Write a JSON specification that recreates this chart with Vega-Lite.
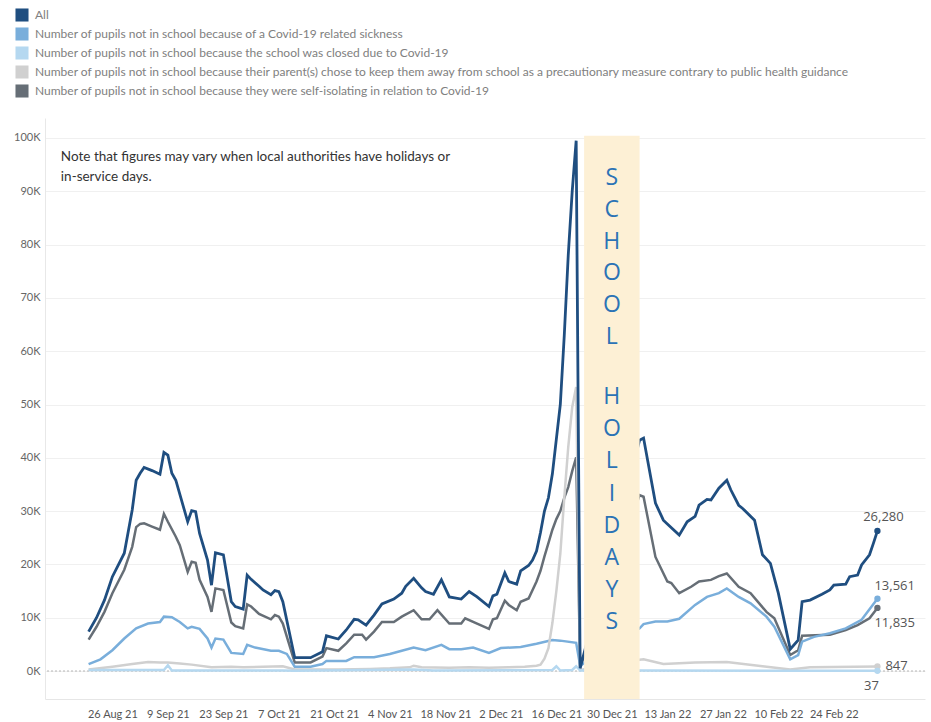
{
  "$schema": "https://vega.github.io/schema/vega-lite/v6.json",
  "width": 880,
  "height": 581,
  "autosize": {"type": "none"},
  "padding": {"left": 45, "top": 118, "right": 6, "bottom": 23},
  "background": "white",
  "config": {"view": {"stroke": null}, "font": "Lato"},
  "datasets": {
    "names": [
      {"k": "A", "name": "All"},
      {"k": "S", "name": "Number of pupils not in school because of a Covid-19 related sickness"},
      {"k": "C", "name": "Number of pupils not in school because the school was closed due to Covid-19"},
      {"k": "P", "name": "Number of pupils not in school because their parent(s) chose to keep them away from school as a precautionary measure contrary to public health guidance"},
      {"k": "I", "name": "Number of pupils not in school because they were self-isolating in relation to Covid-19"}
    ],
    "abs": [
      {"d":"2021-08-20","k":"A","v":7400},{"d":"2021-08-22","k":"A","v":10000},{"d":"2021-08-24","k":"A","v":13300},{"d":"2021-08-26","k":"A","v":17700},{"d":"2021-08-29","k":"A","v":22100},{"d":"2021-08-31","k":"A","v":30200},{"d":"2021-09-01","k":"A","v":35800},{"d":"2021-09-02","k":"A","v":37100},{"d":"2021-09-03","k":"A","v":38200},{"d":"2021-09-05","k":"A","v":37600},{"d":"2021-09-07","k":"A","v":36900},{"d":"2021-09-08","k":"A","v":41000},{"d":"2021-09-09","k":"A","v":40500},{"d":"2021-09-10","k":"A","v":37100},{"d":"2021-09-11","k":"A","v":35800},{"d":"2021-09-14","k":"A","v":28000},{"d":"2021-09-15","k":"A","v":30100},{"d":"2021-09-16","k":"A","v":29900},{"d":"2021-09-17","k":"A","v":25800},{"d":"2021-09-19","k":"A","v":20800},{"d":"2021-09-20","k":"A","v":16100},{"d":"2021-09-21","k":"A","v":22200},{"d":"2021-09-23","k":"A","v":21800},{"d":"2021-09-25","k":"A","v":13000},{"d":"2021-09-26","k":"A","v":12100},{"d":"2021-09-28","k":"A","v":11600},{"d":"2021-09-29","k":"A","v":18000},{"d":"2021-09-30","k":"A","v":17200},{"d":"2021-10-02","k":"A","v":15900},{"d":"2021-10-03","k":"A","v":15200},{"d":"2021-10-05","k":"A","v":14300},{"d":"2021-10-06","k":"A","v":15100},{"d":"2021-10-07","k":"A","v":14900},{"d":"2021-10-08","k":"A","v":13000},{"d":"2021-10-11","k":"A","v":2500},{"d":"2021-10-13","k":"A","v":2500},{"d":"2021-10-15","k":"A","v":2500},{"d":"2021-10-18","k":"A","v":3600},{"d":"2021-10-19","k":"A","v":6600},{"d":"2021-10-22","k":"A","v":6000},{"d":"2021-10-24","k":"A","v":7700},{"d":"2021-10-26","k":"A","v":9700},{"d":"2021-10-27","k":"A","v":9600},{"d":"2021-10-29","k":"A","v":8600},{"d":"2021-10-31","k":"A","v":10500},{"d":"2021-11-02","k":"A","v":12600},{"d":"2021-11-05","k":"A","v":13500},{"d":"2021-11-07","k":"A","v":14600},{"d":"2021-11-08","k":"A","v":15900},{"d":"2021-11-10","k":"A","v":17400},{"d":"2021-11-12","k":"A","v":15600},{"d":"2021-11-13","k":"A","v":14900},{"d":"2021-11-15","k":"A","v":14400},{"d":"2021-11-17","k":"A","v":17100},{"d":"2021-11-19","k":"A","v":13900},{"d":"2021-11-22","k":"A","v":13500},{"d":"2021-11-24","k":"A","v":14900},{"d":"2021-11-26","k":"A","v":13900},{"d":"2021-11-29","k":"A","v":12100},{"d":"2021-11-30","k":"A","v":14100},{"d":"2021-12-01","k":"A","v":14400},{"d":"2021-12-03","k":"A","v":18400},{"d":"2021-12-04","k":"A","v":16800},{"d":"2021-12-06","k":"A","v":16300},{"d":"2021-12-07","k":"A","v":18800},{"d":"2021-12-09","k":"A","v":19800},{"d":"2021-12-10","k":"A","v":20800},{"d":"2021-12-11","k":"A","v":22500},{"d":"2021-12-12","k":"A","v":26000},{"d":"2021-12-13","k":"A","v":30000},{"d":"2021-12-14","k":"A","v":32500},{"d":"2021-12-15","k":"A","v":37000},{"d":"2021-12-16","k":"A","v":43500},{"d":"2021-12-17","k":"A","v":50000},{"d":"2021-12-18","k":"A","v":63000},{"d":"2021-12-19","k":"A","v":78000},{"d":"2021-12-20","k":"A","v":90000},{"d":"2021-12-21","k":"A","v":99500},{"d":"2021-12-22","k":"A","v":500},{"d":"2022-01-06","k":"A","v":43300},{"d":"2022-01-07","k":"A","v":43700},{"d":"2022-01-10","k":"A","v":31500},{"d":"2022-01-12","k":"A","v":28300},{"d":"2022-01-13","k":"A","v":27600},{"d":"2022-01-16","k":"A","v":25500},{"d":"2022-01-18","k":"A","v":28000},{"d":"2022-01-20","k":"A","v":29000},{"d":"2022-01-21","k":"A","v":31100},{"d":"2022-01-23","k":"A","v":32200},{"d":"2022-01-24","k":"A","v":32100},{"d":"2022-01-26","k":"A","v":34300},{"d":"2022-01-28","k":"A","v":35800},{"d":"2022-01-29","k":"A","v":34000},{"d":"2022-01-31","k":"A","v":31100},{"d":"2022-02-01","k":"A","v":30500},{"d":"2022-02-04","k":"A","v":28300},{"d":"2022-02-06","k":"A","v":21800},{"d":"2022-02-08","k":"A","v":20200},{"d":"2022-02-10","k":"A","v":14600},{"d":"2022-02-13","k":"A","v":4100},{"d":"2022-02-15","k":"A","v":5800},{"d":"2022-02-16","k":"A","v":13000},{"d":"2022-02-18","k":"A","v":13300},{"d":"2022-02-21","k":"A","v":14400},{"d":"2022-02-23","k":"A","v":15200},{"d":"2022-02-24","k":"A","v":16100},{"d":"2022-02-27","k":"A","v":16300},{"d":"2022-02-28","k":"A","v":17700},{"d":"2022-03-02","k":"A","v":18000},{"d":"2022-03-03","k":"A","v":19900},{"d":"2022-03-05","k":"A","v":21800},{"d":"2022-03-06","k":"A","v":24000},{"d":"2022-03-07","k":"A","v":26280},
      {"d":"2021-08-20","k":"I","v":5900},{"d":"2021-08-22","k":"I","v":8300},{"d":"2021-08-24","k":"I","v":11100},{"d":"2021-08-26","k":"I","v":14600},{"d":"2021-08-29","k":"I","v":19000},{"d":"2021-08-31","k":"I","v":23300},{"d":"2021-09-01","k":"I","v":27000},{"d":"2021-09-02","k":"I","v":27600},{"d":"2021-09-03","k":"I","v":27700},{"d":"2021-09-05","k":"I","v":27100},{"d":"2021-09-07","k":"I","v":26500},{"d":"2021-09-08","k":"I","v":29500},{"d":"2021-09-09","k":"I","v":28000},{"d":"2021-09-11","k":"I","v":25200},{"d":"2021-09-12","k":"I","v":23600},{"d":"2021-09-14","k":"I","v":18600},{"d":"2021-09-15","k":"I","v":20500},{"d":"2021-09-16","k":"I","v":20300},{"d":"2021-09-17","k":"I","v":17100},{"d":"2021-09-19","k":"I","v":13900},{"d":"2021-09-20","k":"I","v":11100},{"d":"2021-09-21","k":"I","v":15500},{"d":"2021-09-23","k":"I","v":15200},{"d":"2021-09-25","k":"I","v":9100},{"d":"2021-09-26","k":"I","v":8400},{"d":"2021-09-28","k":"I","v":8000},{"d":"2021-09-29","k":"I","v":12500},{"d":"2021-09-30","k":"I","v":12100},{"d":"2021-10-02","k":"I","v":10700},{"d":"2021-10-05","k":"I","v":9700},{"d":"2021-10-06","k":"I","v":10500},{"d":"2021-10-07","k":"I","v":10200},{"d":"2021-10-08","k":"I","v":8900},{"d":"2021-10-11","k":"I","v":1600},{"d":"2021-10-15","k":"I","v":1600},{"d":"2021-10-18","k":"I","v":2700},{"d":"2021-10-19","k":"I","v":4300},{"d":"2021-10-22","k":"I","v":3800},{"d":"2021-10-24","k":"I","v":5200},{"d":"2021-10-26","k":"I","v":6800},{"d":"2021-10-28","k":"I","v":6800},{"d":"2021-10-29","k":"I","v":5900},{"d":"2021-10-31","k":"I","v":7400},{"d":"2021-11-02","k":"I","v":9200},{"d":"2021-11-05","k":"I","v":9200},{"d":"2021-11-07","k":"I","v":10200},{"d":"2021-11-10","k":"I","v":11400},{"d":"2021-11-12","k":"I","v":9700},{"d":"2021-11-14","k":"I","v":9700},{"d":"2021-11-16","k":"I","v":11400},{"d":"2021-11-19","k":"I","v":8900},{"d":"2021-11-22","k":"I","v":8900},{"d":"2021-11-23","k":"I","v":9900},{"d":"2021-11-26","k":"I","v":8900},{"d":"2021-11-29","k":"I","v":7900},{"d":"2021-11-30","k":"I","v":9700},{"d":"2021-12-01","k":"I","v":9900},{"d":"2021-12-03","k":"I","v":13200},{"d":"2021-12-04","k":"I","v":12400},{"d":"2021-12-06","k":"I","v":11400},{"d":"2021-12-07","k":"I","v":13000},{"d":"2021-12-09","k":"I","v":13600},{"d":"2021-12-11","k":"I","v":16800},{"d":"2021-12-12","k":"I","v":18800},{"d":"2021-12-13","k":"I","v":21500},{"d":"2021-12-14","k":"I","v":24000},{"d":"2021-12-15","k":"I","v":26500},{"d":"2021-12-16","k":"I","v":28500},{"d":"2021-12-17","k":"I","v":30000},{"d":"2021-12-18","k":"I","v":32500},{"d":"2021-12-19","k":"I","v":34500},{"d":"2021-12-20","k":"I","v":37500},{"d":"2021-12-21","k":"I","v":40100},{"d":"2021-12-22","k":"I","v":800},{"d":"2022-01-06","k":"I","v":33000},{"d":"2022-01-07","k":"I","v":32700},{"d":"2022-01-10","k":"I","v":21400},{"d":"2022-01-13","k":"I","v":16800},{"d":"2022-01-14","k":"I","v":16500},{"d":"2022-01-16","k":"I","v":14600},{"d":"2022-01-19","k":"I","v":15800},{"d":"2022-01-21","k":"I","v":16800},{"d":"2022-01-24","k":"I","v":17100},{"d":"2022-01-26","k":"I","v":17800},{"d":"2022-01-28","k":"I","v":18300},{"d":"2022-01-31","k":"I","v":15800},{"d":"2022-02-03","k":"I","v":14600},{"d":"2022-02-07","k":"I","v":11100},{"d":"2022-02-09","k":"I","v":9900},{"d":"2022-02-13","k":"I","v":3000},{"d":"2022-02-15","k":"I","v":3900},{"d":"2022-02-16","k":"I","v":6600},{"d":"2022-02-23","k":"I","v":6800},{"d":"2022-02-27","k":"I","v":7700},{"d":"2022-03-02","k":"I","v":8600},{"d":"2022-03-05","k":"I","v":9900},{"d":"2022-03-07","k":"I","v":11835},
      {"d":"2021-08-20","k":"S","v":1300},{"d":"2021-08-23","k":"S","v":2200},{"d":"2021-08-26","k":"S","v":3900},{"d":"2021-08-29","k":"S","v":6100},{"d":"2021-09-01","k":"S","v":8000},{"d":"2021-09-04","k":"S","v":8900},{"d":"2021-09-07","k":"S","v":9200},{"d":"2021-09-08","k":"S","v":10200},{"d":"2021-09-10","k":"S","v":10100},{"d":"2021-09-12","k":"S","v":9200},{"d":"2021-09-14","k":"S","v":8000},{"d":"2021-09-15","k":"S","v":8300},{"d":"2021-09-17","k":"S","v":7900},{"d":"2021-09-19","k":"S","v":6100},{"d":"2021-09-20","k":"S","v":4400},{"d":"2021-09-21","k":"S","v":6100},{"d":"2021-09-23","k":"S","v":5900},{"d":"2021-09-25","k":"S","v":3400},{"d":"2021-09-28","k":"S","v":3200},{"d":"2021-09-29","k":"S","v":4900},{"d":"2021-10-01","k":"S","v":4400},{"d":"2021-10-05","k":"S","v":3800},{"d":"2021-10-07","k":"S","v":3800},{"d":"2021-10-09","k":"S","v":3200},{"d":"2021-10-11","k":"S","v":800},{"d":"2021-10-15","k":"S","v":800},{"d":"2021-10-18","k":"S","v":1300},{"d":"2021-10-19","k":"S","v":1900},{"d":"2021-10-24","k":"S","v":1900},{"d":"2021-10-26","k":"S","v":2600},{"d":"2021-10-31","k":"S","v":2600},{"d":"2021-11-04","k":"S","v":3200},{"d":"2021-11-07","k":"S","v":3800},{"d":"2021-11-10","k":"S","v":4400},{"d":"2021-11-13","k":"S","v":3900},{"d":"2021-11-17","k":"S","v":4900},{"d":"2021-11-19","k":"S","v":4100},{"d":"2021-11-22","k":"S","v":4100},{"d":"2021-11-25","k":"S","v":4400},{"d":"2021-11-29","k":"S","v":3400},{"d":"2021-12-02","k":"S","v":4300},{"d":"2021-12-07","k":"S","v":4500},{"d":"2021-12-11","k":"S","v":5100},{"d":"2021-12-15","k":"S","v":5800},{"d":"2021-12-17","k":"S","v":5700},{"d":"2021-12-21","k":"S","v":5300},{"d":"2021-12-22","k":"S","v":1000},{"d":"2022-01-06","k":"S","v":8000},{"d":"2022-01-07","k":"S","v":8800},{"d":"2022-01-10","k":"S","v":9300},{"d":"2022-01-13","k":"S","v":9300},{"d":"2022-01-16","k":"S","v":9800},{"d":"2022-01-20","k":"S","v":12400},{"d":"2022-01-23","k":"S","v":13900},{"d":"2022-01-26","k":"S","v":14600},{"d":"2022-01-28","k":"S","v":15500},{"d":"2022-01-31","k":"S","v":13900},{"d":"2022-02-03","k":"S","v":12700},{"d":"2022-02-07","k":"S","v":10200},{"d":"2022-02-09","k":"S","v":8300},{"d":"2022-02-13","k":"S","v":2200},{"d":"2022-02-15","k":"S","v":3000},{"d":"2022-02-16","k":"S","v":5500},{"d":"2022-02-19","k":"S","v":6400},{"d":"2022-02-23","k":"S","v":7100},{"d":"2022-02-27","k":"S","v":8000},{"d":"2022-03-03","k":"S","v":9600},{"d":"2022-03-07","k":"S","v":13561},
      {"d":"2021-08-20","k":"P","v":300},{"d":"2021-08-26","k":"P","v":800},{"d":"2021-08-31","k":"P","v":1300},{"d":"2021-09-04","k":"P","v":1700},{"d":"2021-09-07","k":"P","v":1600},{"d":"2021-09-09","k":"P","v":1600},{"d":"2021-09-12","k":"P","v":1400},{"d":"2021-09-15","k":"P","v":1200},{"d":"2021-09-20","k":"P","v":700},{"d":"2021-09-25","k":"P","v":800},{"d":"2021-09-28","k":"P","v":700},{"d":"2021-10-03","k":"P","v":800},{"d":"2021-10-08","k":"P","v":900},{"d":"2021-10-11","k":"P","v":300},{"d":"2021-10-22","k":"P","v":300},{"d":"2021-10-30","k":"P","v":400},{"d":"2021-11-04","k":"P","v":500},{"d":"2021-11-09","k":"P","v":700},{"d":"2021-11-10","k":"P","v":1000},{"d":"2021-11-12","k":"P","v":700},{"d":"2021-11-19","k":"P","v":600},{"d":"2021-11-24","k":"P","v":700},{"d":"2021-11-29","k":"P","v":600},{"d":"2021-12-04","k":"P","v":700},{"d":"2021-12-08","k":"P","v":800},{"d":"2021-12-11","k":"P","v":1000},{"d":"2021-12-12","k":"P","v":1200},{"d":"2021-12-13","k":"P","v":2300},{"d":"2021-12-14","k":"P","v":4300},{"d":"2021-12-15","k":"P","v":9000},{"d":"2021-12-16","k":"P","v":15000},{"d":"2021-12-17","k":"P","v":22000},{"d":"2021-12-18","k":"P","v":32500},{"d":"2021-12-19","k":"P","v":42000},{"d":"2021-12-20","k":"P","v":49500},{"d":"2021-12-21","k":"P","v":53300},{"d":"2021-12-22","k":"P","v":200},{"d":"2022-01-06","k":"P","v":2100},{"d":"2022-01-07","k":"P","v":2200},{"d":"2022-01-12","k":"P","v":1300},{"d":"2022-01-20","k":"P","v":1600},{"d":"2022-01-28","k":"P","v":1700},{"d":"2022-02-06","k":"P","v":900},{"d":"2022-02-13","k":"P","v":300},{"d":"2022-02-18","k":"P","v":700},{"d":"2022-03-07","k":"P","v":847},
      {"d":"2021-08-20","k":"C","v":200},{"d":"2021-09-08","k":"C","v":200},{"d":"2021-09-09","k":"C","v":1100},{"d":"2021-09-10","k":"C","v":100},{"d":"2021-10-08","k":"C","v":100},{"d":"2021-10-11","k":"C","v":50},{"d":"2021-11-10","k":"C","v":300},{"d":"2021-11-15","k":"C","v":100},{"d":"2021-12-15","k":"C","v":200},{"d":"2021-12-16","k":"C","v":900},{"d":"2021-12-17","k":"C","v":100},{"d":"2021-12-20","k":"C","v":200},{"d":"2021-12-21","k":"C","v":900},{"d":"2021-12-22","k":"C","v":100},{"d":"2022-01-06","k":"C","v":100},{"d":"2022-02-13","k":"C","v":50},{"d":"2022-03-07","k":"C","v":37}
    ]
  },
  "layer": [
    {
      "data": {"values": [{}]},
      "mark": {"type": "rule", "color": "#b5b5b5", "strokeDash": [2, 2], "strokeWidth": 1},
      "encoding": {"y": {"datum": 0, "type": "quantitative"}}
    },
    {
      "data": {"name": "abs"},
      "transform": [{"lookup": "k", "from": {"data": {"name": "names"}, "key": "k", "fields": ["name"]}}],
      "layer": [
        {
          "transform": [{"filter": "datum.k != 'A'"}],
          "mark": {"type": "line", "strokeWidth": 2.5},
          "encoding": {
            "x": {
              "field": "d", "type": "temporal",
              "scale": {"type": "utc", "domain": [{"year": 2021, "month": 8, "date": 9, "utc": true}, {"year": 2022, "month": 3, "date": 19, "utc": true}]},
              "axis": {
                "values": [
                  {"year": 2021, "month": 8, "date": 26, "utc": true},
                  {"year": 2021, "month": 9, "date": 9, "utc": true},
                  {"year": 2021, "month": 9, "date": 23, "utc": true},
                  {"year": 2021, "month": 10, "date": 7, "utc": true},
                  {"year": 2021, "month": 10, "date": 21, "utc": true},
                  {"year": 2021, "month": 11, "date": 4, "utc": true},
                  {"year": 2021, "month": 11, "date": 18, "utc": true},
                  {"year": 2021, "month": 12, "date": 2, "utc": true},
                  {"year": 2021, "month": 12, "date": 16, "utc": true},
                  {"year": 2021, "month": 12, "date": 30, "utc": true},
                  {"year": 2022, "month": 1, "date": 13, "utc": true},
                  {"year": 2022, "month": 1, "date": 27, "utc": true},
                  {"year": 2022, "month": 2, "date": 10, "utc": true},
                  {"year": 2022, "month": 2, "date": 24, "utc": true}
                ],
                "labelExpr": "utcFormat(datum.value, '%-d %b %y')",
                "title": null, "grid": false, "ticks": false,
                "domainColor": "#e6e6e6", "labelPadding": 9,
                "labelFont": "Lato", "labelFontSize": 11, "labelColor": "#555555",
                "labelOverlap": false, "labelFlush": false, "labelAngle": 0
              }
            },
            "y": {
              "field": "v", "type": "quantitative",
              "scale": {"domain": [-5250, 103750], "nice": false, "zero": false},
              "axis": {
                "values": [0, 10000, 20000, 30000, 40000, 50000, 60000, 70000, 80000, 90000, 100000],
                "labelExpr": "datum.value / 1000 + 'K'",
                "title": null, "ticks": false, "grid": true, "gridColor": "#f0f0f0",
                "domainColor": "#e8e8e8", "labelPadding": 5,
                "labelFont": "Lato", "labelFontSize": 11, "labelColor": "#666666"
              }
            },
            "color": {
              "field": "name", "type": "nominal",
              "scale": {"range": ["#1f4e80", "#79aedb", "#b5d8f0", "#d0d0d0", "#666e76"]},
              "legend": {
                "title": null, "orient": "none", "legendX": -30, "legendY": -110, "direction": "vertical",
                "padding": 0, "symbolType": "square", "symbolSize": 170, "symbolStrokeWidth": 0,
                "labelFont": "Lato", "labelFontSize": 12, "labelColor": "#808080", "labelLimit": 0,
                "labelOffset": 6, "rowPadding": 5,
                "encode": {"symbols": {"update": {"fill": {"signal": "scale('color', datum.value)"}, "fillOpacity": {"value": 1}, "strokeWidth": {"value": 0}, "opacity": {"value": 1}}}}
              }
            }
          }
        },
        {
          "transform": [{"filter": "datum.k == 'A'"}],
          "mark": {"type": "line", "strokeWidth": 2.8},
          "encoding": {
            "x": {"field": "d", "type": "temporal"},
            "y": {"field": "v", "type": "quantitative"},
            "color": {"field": "name", "type": "nominal"}
          }
        }
      ]
    },
    {
      "data": {"values": [{}]},
      "mark": {"type": "rect", "color": "#fdf0d5", "opacity": 1},
      "encoding": {
        "x": {"datum": {"year": 2021, "month": 12, "date": 23, "utc": true}, "type": "temporal"},
        "x2": {"datum": {"year": 2022, "month": 1, "date": 6, "utc": true}},
        "y": {"datum": -5250, "type": "quantitative"},
        "y2": {"datum": 100400}
      }
    },
    {
      "data": {"values": [{}]},
      "mark": {
        "type": "text", "font": "Open Sans", "fontSize": 23, "color": "#2b73b6",
        "align": "center", "baseline": "middle", "lineHeight": 31.8,
        "text": ["S", "C", "H", "O", "O", "L"]
      },
      "encoding": {
        "x": {"datum": {"year": 2021, "month": 12, "date": 30, "utc": true}, "type": "temporal"},
        "y": {"datum": 92500, "type": "quantitative"}
      }
    },
    {
      "data": {"values": [{}]},
      "mark": {
        "type": "text", "font": "Open Sans", "fontSize": 23, "color": "#2b73b6",
        "align": "center", "baseline": "middle", "lineHeight": 32.2,
        "text": ["H", "O", "L", "I", "D", "A", "Y", "S"]
      },
      "encoding": {
        "x": {"datum": {"year": 2021, "month": 12, "date": 30, "utc": true}, "type": "temporal"},
        "y": {"datum": 51400, "type": "quantitative"}
      }
    },
    {
      "data": {"values": [{}]},
      "mark": {
        "type": "text", "font": "Lato", "fontSize": 13.5, "color": "#333333",
        "align": "left", "baseline": "middle", "lineHeight": 20,
        "text": ["Note that figures may vary when  local authorities have holidays or", "in-service days."]
      },
      "encoding": {
        "x": {"datum": {"year": 2021, "month": 8, "date": 13, "utc": true}, "type": "temporal"},
        "y": {"datum": 96400, "type": "quantitative"}
      }
    },
    {
      "data": {"name": "abs"},
      "transform": [
        {"filter": {"field": "d", "equal": {"year": 2022, "month": 3, "date": 7, "utc": true}}},
        {"lookup": "k", "from": {"data": {"name": "names"}, "key": "k", "fields": ["name"]}}
      ],
      "layer": [
        {
          "mark": {"type": "circle", "size": 40, "opacity": 1},
          "encoding": {
            "x": {"field": "d", "type": "temporal"},
            "y": {"field": "v", "type": "quantitative"},
            "color": {"field": "name", "type": "nominal"}
          }
        },
        {
          "transform": [{"filter": "datum.k == 'A'"}],
          "mark": {"type": "text", "font": "Open Sans", "fontSize": 13, "color": "#555555", "align": "center", "dx": 6, "dy": -14},
          "encoding": {"x": {"field": "d", "type": "temporal"}, "y": {"field": "v", "type": "quantitative"}, "text": {"field": "v", "type": "quantitative", "format": ","}}
        },
        {
          "transform": [{"filter": "datum.k == 'S'"}],
          "mark": {"type": "text", "font": "Open Sans", "fontSize": 13, "color": "#555555", "align": "left", "dx": -3, "dy": -13},
          "encoding": {"x": {"field": "d", "type": "temporal"}, "y": {"field": "v", "type": "quantitative"}, "text": {"field": "v", "type": "quantitative", "format": ","}}
        },
        {
          "transform": [{"filter": "datum.k == 'I'"}],
          "mark": {"type": "text", "font": "Open Sans", "fontSize": 13, "color": "#555555", "align": "left", "dx": -3, "dy": 15},
          "encoding": {"x": {"field": "d", "type": "temporal"}, "y": {"field": "v", "type": "quantitative"}, "text": {"field": "v", "type": "quantitative", "format": ","}}
        },
        {
          "transform": [{"filter": "datum.k == 'P'"}],
          "mark": {"type": "text", "font": "Open Sans", "fontSize": 13, "color": "#555555", "align": "left", "dx": 8, "dy": -1},
          "encoding": {"x": {"field": "d", "type": "temporal"}, "y": {"field": "v", "type": "quantitative"}, "text": {"field": "v", "type": "quantitative", "format": ","}}
        },
        {
          "transform": [{"filter": "datum.k == 'C'"}],
          "mark": {"type": "text", "font": "Open Sans", "fontSize": 13, "color": "#555555", "align": "center", "dx": -6, "dy": 15},
          "encoding": {"x": {"field": "d", "type": "temporal"}, "y": {"field": "v", "type": "quantitative"}, "text": {"field": "v", "type": "quantitative", "format": ","}}
        }
      ]
    }
  ]
}
